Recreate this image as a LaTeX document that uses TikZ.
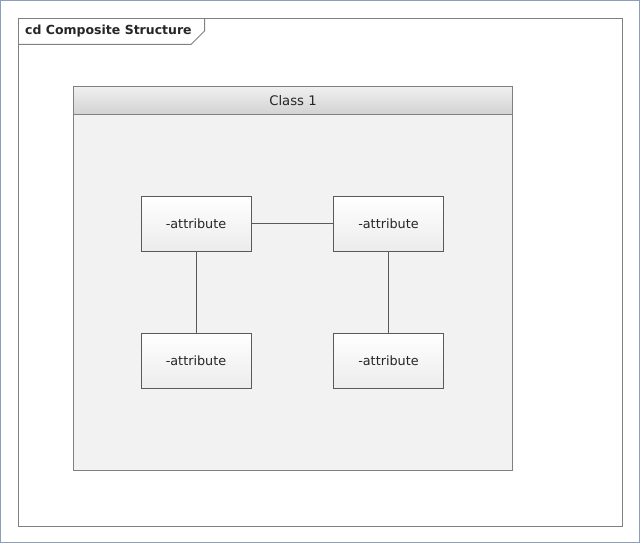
\documentclass[tikz,border=0pt]{standalone}
\usepackage{fontspec}
\setmainfont{DejaVu Sans}
\definecolor{outerc}{HTML}{8AA0BA}
\definecolor{framec}{HTML}{808080}
\definecolor{boxc}{HTML}{5A5A5A}
\definecolor{bodyc}{HTML}{F2F2F2}
\definecolor{headtop}{HTML}{F0F0F0}
\definecolor{headbot}{HTML}{D2D2D2}
\definecolor{attrbot}{HTML}{ECECEC}
\tikzset{
  attr/.style={draw=boxc, line width=1pt, minimum width=110pt, minimum height=55pt, inner sep=0pt,
    top color=white, bottom color=attrbot, font=\fontsize{12.8}{15}\selectfont, text=black!85},
  conn/.style={draw=boxc, line width=0.9pt},
}
\begin{document}
\begin{tikzpicture}[x=1pt,y=-1pt]
\useasboundingbox (0,0) rectangle (640,543);
% outer border
\draw[outerc, line width=1.2pt] (0.6,0.6) rectangle (639.4,542.4);
% frame
\draw[framec, line width=1pt] (18.5,18.5) rectangle (622.5,526.5);
\draw[framec, line width=1pt] (18.5,44.5) -- (191,44.5) -- (204.5,31) -- (204.5,18.5);
\node[anchor=west, font=\bfseries\fontsize{12.5}{15}\selectfont, text=black!85, inner sep=0pt] (title) at (25,31.5) {cd Composite Structure};
% class
\fill[bodyc] (73.5,114.5) rectangle (512.5,470.5);
\shade[top color=headtop, bottom color=headbot] (73.5,86.5) rectangle (512.5,114.5);
\draw[framec, line width=1pt] (73.5,86.5) rectangle (512.5,470.5);
\draw[framec, line width=1pt] (73.5,114.5) -- (512.5,114.5);
\node[font=\fontsize{13.2}{15}\selectfont, text=black!85, inner sep=0pt] (cls) at (293,100.5) {Class 1};
% attributes
\node[attr] (a1) at (196,223.5) {-attribute};
\node[attr] (a2) at (388.5,223.5) {-attribute};
\node[attr] (a3) at (196,361) {-attribute};
\node[attr] (a4) at (388.5,361) {-attribute};
\draw[conn] (a1.east) -- (a2.west);
\draw[conn] (a1.south) -- (a3.north);
\draw[conn] (a2.south) -- (a4.north);
\end{tikzpicture}
\end{document}
